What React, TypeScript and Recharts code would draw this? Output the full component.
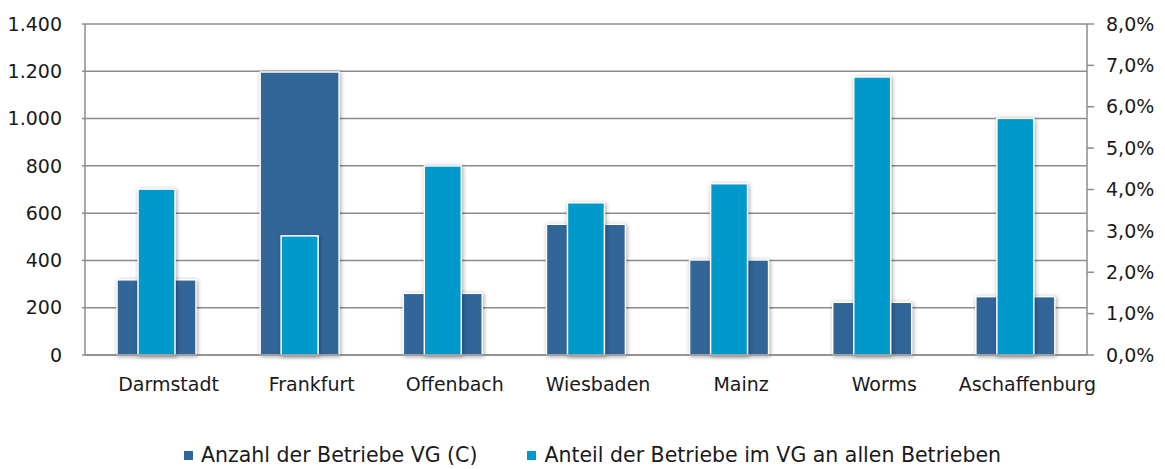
import React from "react";
import { BarChart, Bar, XAxis, YAxis, CartesianGrid } from "recharts";

const cities = ["Darmstadt", "Frankfurt", "Offenbach", "Wiesbaden", "Mainz", "Worms", "Aschaffenburg"];
const anzahl = [318, 1197, 261, 553, 402, 223, 247];
const anteil = [4.01, 2.88, 4.57, 3.68, 4.14, 6.72, 5.72];

const leftTicks = [0, 200, 400, 600, 800, 1000, 1200, 1400];
const rightTicks = [0, 1, 2, 3, 4, 5, 6, 7, 8];

const seriesNames = ["Anzahl der Betriebe VG (C)", "Anteil der Betriebe im VG an allen Betrieben"];

const DARK = "#326699";
const LIGHT = "#0099cb";
const GRID = "#8c8c8c";
const TEXT = "#1a1a1a";
const FONT = "'DejaVu Sans', sans-serif";

const data = cities.map((city, i) => ({ city, anzahl: anzahl[i], anteil: anteil[i] }));

function formatThousands(v: number) {
  return String(v).replace(/\B(?=(\d{3})+(?!\d))/g, ".");
}

function formatPercent(v: number) {
  return v.toFixed(1).replace(".", ",") + "%";
}

function ShadowRect(props: any) {
  const { x, y, width, height, fill } = props;
  if (!height || height <= 0) return null;
  return (
    <rect
      x={x}
      y={y}
      width={width}
      height={height}
      fill={fill}
      stroke="#ffffff"
      strokeWidth={1.5}
      style={{ filter: "drop-shadow(1px 1px 2px rgba(0,0,0,0.35))" }}
    />
  );
}

function CityTick(props: any) {
  const { x, y, payload } = props;
  return (
    <text x={x + 12} y={y} dy="0.71em" textAnchor="middle" fontSize={19} fill={TEXT} fontFamily={FONT}>
      {payload.value}
    </text>
  );
}

export default function App() {
  return (
    <div style={{ position: "absolute", left: 0, top: 0, width: 1165, height: 469, background: "#fff" }}>
      <BarChart
        width={1165}
        height={469}
        data={data}
        margin={{ top: 24, right: 0, bottom: 74, left: 0 }}
        style={{ fontFamily: FONT }}
      >
        <CartesianGrid vertical={false} stroke={GRID} strokeWidth={1.5} yAxisId="left" />
        <XAxis
          xAxisId="a"
          dataKey="city"
          height={40}
          tick={<CityTick />}
          tickLine={false}
          tickSize={0}
          tickMargin={23}
          axisLine={{ stroke: GRID, strokeWidth: 1.5 }}
          interval={0}
        />
        <XAxis xAxisId="b" dataKey="city" hide />
        <YAxis
          yAxisId="left"
          width={85}
          domain={[0, 1400]}
          ticks={leftTicks}
          tickFormatter={formatThousands}
          tick={{ fontSize: 19, fill: TEXT, fontFamily: FONT }}
          tickSize={3}
          tickMargin={20}
          tickLine={{ stroke: GRID, strokeWidth: 1.5 }}
          axisLine={{ stroke: GRID, strokeWidth: 1.5 }}
          interval={0}
        />
        <YAxis
          yAxisId="right"
          orientation="right"
          width={78}
          domain={[0, 8]}
          ticks={rightTicks}
          tickFormatter={formatPercent}
          tick={{ fontSize: 19, fill: TEXT, fontFamily: FONT }}
          tickSize={7}
          tickMargin={12}
          tickLine={{ stroke: GRID, strokeWidth: 1.5 }}
          axisLine={{ stroke: GRID, strokeWidth: 1.5 }}
          interval={0}
        />
        <Bar
          xAxisId="a"
          yAxisId="left"
          dataKey="anzahl"
          name={seriesNames[0]}
          fill={DARK}
          barSize={79}
          shape={<ShadowRect />}
          isAnimationActive={false}
        />
        <Bar
          xAxisId="b"
          yAxisId="right"
          dataKey="anteil"
          name={seriesNames[1]}
          fill={LIGHT}
          barSize={37}
          shape={<ShadowRect />}
          isAnimationActive={false}
        />
      </BarChart>
      <div
        style={{
          position: "absolute",
          left: 0,
          top: 442,
          width: 1165,
          display: "flex",
          justifyContent: "center",
          paddingLeft: 20,
          boxSizing: "border-box",
          fontFamily: FONT,
          fontSize: 20.5,
          color: TEXT,
          lineHeight: "26px",
        }}
      >
        {seriesNames.map((name, i) => (
          <div key={name} style={{ display: "flex", alignItems: "center", marginRight: i === 0 ? 50 : 0 }}>
            <span style={{ display: "inline-block", width: 9, height: 9, background: i === 0 ? DARK : LIGHT, marginRight: 8 }} />
            {name}
          </div>
        ))}
      </div>
    </div>
  );
}
